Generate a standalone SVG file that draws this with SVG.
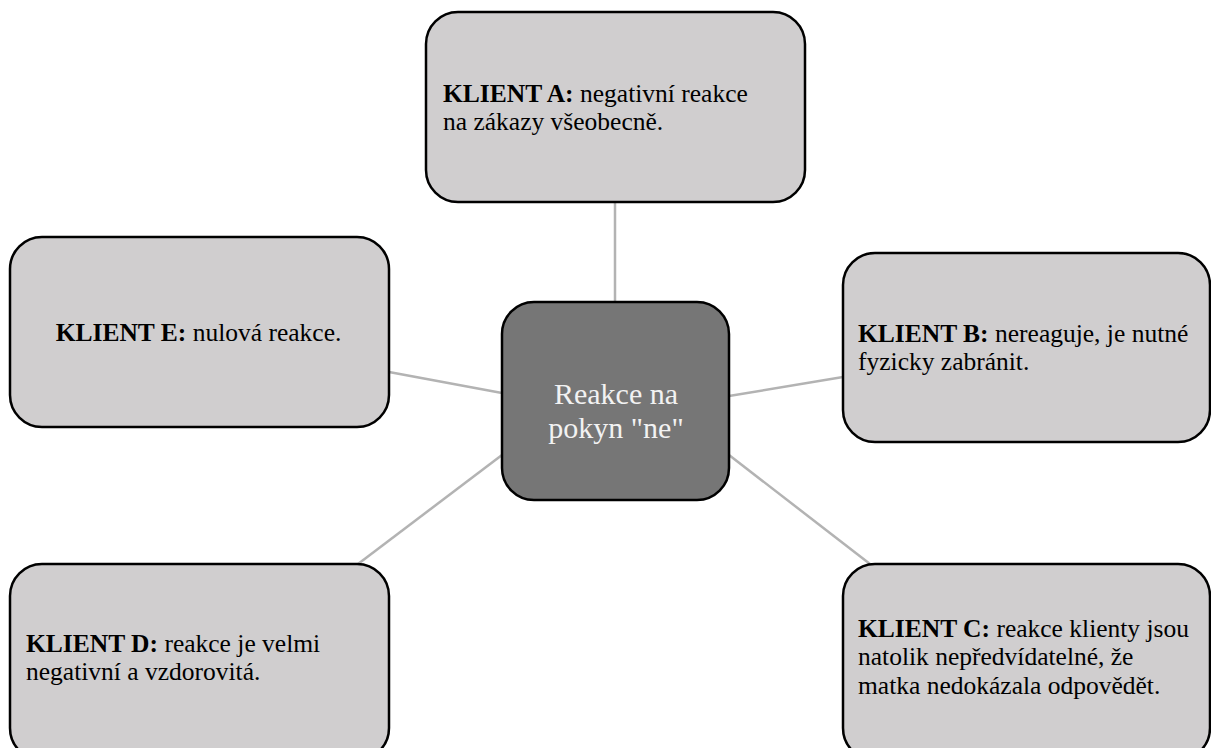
<svg xmlns="http://www.w3.org/2000/svg" width="1211" height="748" viewBox="0 0 1211 748">
  <style>
    .box { fill: #d0cecf; stroke: #000; stroke-width: 2.5; }
    .hub { fill: #767676; stroke: #000; stroke-width: 2.5; }
    .link { stroke: #b3b3b3; stroke-width: 2.5; fill: none; }
    .lbl { font-family: "Liberation Serif", "Times New Roman", serif; font-size: 25.5px; font-weight: 400; fill: #000; }
    .b { font-weight: 700; }
    .hubtxt { font-family: "Liberation Serif", "Times New Roman", serif; font-size: 30px; font-weight: 400; fill: #f2f2f2; text-anchor: middle; }
  </style>
  <rect width="1211" height="748" fill="#fff"/>

  <!-- spokes from the hub to each client -->
  <g id="connectors">
    <line class="link" x1="615" y1="202" x2="615" y2="302"/>
    <line class="link" x1="389" y1="372" x2="502" y2="393"/>
    <line class="link" x1="729" y1="396" x2="843" y2="377"/>
    <line class="link" x1="502" y1="455" x2="358" y2="564"/>
    <line class="link" x1="729" y1="455" x2="870" y2="564"/>
  </g>

  <g id="hub">
    <rect class="hub" x="502" y="302" width="227" height="198" rx="32" ry="32"/>
    <text class="hubtxt" x="616" y="404">Reakce na</text>
    <text class="hubtxt" x="616" y="437.5">pokyn "ne"</text>
  </g>

  <g id="klient-a">
    <rect class="box" x="426" y="12" width="379" height="190" rx="32" ry="32"/>
    <text class="lbl" x="443" y="102"><tspan class="b">KLIENT A:</tspan> negativní reakce</text>
    <text class="lbl" x="443" y="130.4">na zákazy všeobecně.</text>
  </g>

  <g id="klient-b">
    <rect class="box" x="843" y="253" width="367" height="189" rx="32" ry="32"/>
    <text class="lbl" x="858" y="342">
      <tspan class="b">KLIENT B:</tspan> nereaguje, je nutné</text>
    <text class="lbl" x="858" y="370.4">fyzicky zabránit.</text>
  </g>

  <g id="klient-c">
    <rect class="box" x="843" y="564" width="367" height="196" rx="32" ry="32"/>
    <text class="lbl" x="858" y="637"><tspan class="b">KLIENT C:</tspan> reakce klienty jsou</text>
    <text class="lbl" x="858" y="665.4">natolik nepředvídatelné, že</text>
    <text class="lbl" x="858" y="693.8">matka nedokázala odpovědět.</text>
  </g>

  <g id="klient-d">
    <rect class="box" x="10" y="564" width="379" height="196" rx="32" ry="32"/>
    <text class="lbl" x="26" y="652"><tspan class="b">KLIENT D:</tspan> reakce je velmi</text>
    <text class="lbl" x="26" y="680.4">negativní a vzdorovitá.</text>
  </g>

  <g id="klient-e">
    <rect class="box" x="10" y="237" width="379" height="190" rx="32" ry="32"/>
    <text class="lbl" x="198.5" y="341" text-anchor="middle"><tspan class="b">KLIENT E:</tspan> nulová reakce.</text>
  </g>
</svg>
